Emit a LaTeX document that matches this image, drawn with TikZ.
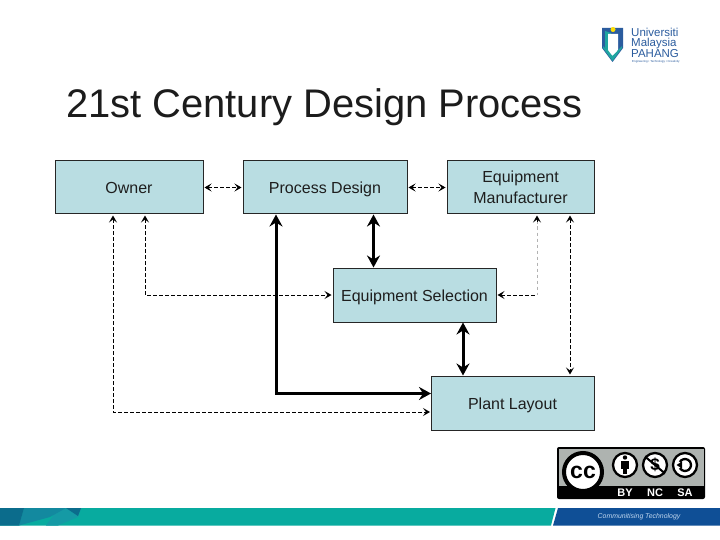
\documentclass[tikz,border=0pt]{standalone}
\usepackage{fontspec}
\setmainfont{Liberation Sans}
\usetikzlibrary{arrows.meta,calc}
\definecolor{boxfill}{HTML}{B9DDE2}
\definecolor{footteal}{HTML}{08AB9F}
\definecolor{footblue}{HTML}{0F4F96}
\definecolor{footdark}{HTML}{0B6C8C}
\definecolor{footmid}{HTML}{13899F}
\definecolor{footlight}{HTML}{159AA5}
\definecolor{logoblue}{HTML}{2B5C9E}
\definecolor{logoteal}{HTML}{1FA5A0}
\definecolor{ccgray}{HTML}{AEB3B0}
\definecolor{titlecol}{HTML}{1C1C1C}
\definecolor{textcol}{HTML}{1E1E1E}
\definecolor{foottext}{HTML}{BFD6EE}
\tikzset{
  block/.style={draw=black!85,line width=1pt,fill=boxfill,inner sep=0pt,align=center,
    text=textcol,font=\fontsize{16}{21}\selectfont},
  oneline/.style={text height=13pt,text depth=0pt},
  softlink/.style={line width=1pt,dash pattern=on 3.5pt off 2.5pt,
    {Stealth[length=7pt,width=8pt,inset=3pt]}-{Stealth[length=7pt,width=8pt,inset=3pt]},shorten <=1pt,shorten >=1pt},
  softgray/.style={line width=1pt,draw=black!30,dash pattern=on 3.5pt off 2.5pt},
  hardlink/.style={line width=3pt,
    {Stealth[length=12pt,width=13pt,inset=4pt]}-{Stealth[length=12pt,width=13pt,inset=4pt]}},
  iconring/.style={circle,draw=black,line width=2.3pt,fill=white,minimum size=24pt,inner sep=0pt},
  cclabel/.style={text=white,font=\bfseries\fontsize{11}{11}\selectfont,inner sep=0pt},
  logoline/.style={anchor=base west,inner sep=0pt,text=logoblue,font=\fontsize{11.5}{11.5}\selectfont}
}
\begin{document}
\begin{tikzpicture}[x=1pt,y=-1pt]
\useasboundingbox (0,0) rectangle (720,540);
\fill[white] (0,0) rectangle (720,540);

% title
\node[anchor=base west,inner sep=0pt,text=titlecol,font=\fontsize{39.9}{40}\selectfont] (title) at (66,118) {21st Century Design Process};

% blocks
\node[block,oneline,minimum width=148pt,minimum height=53pt] (owner) at (129,187.5) {Owner};
\node[block,oneline,minimum width=164pt,minimum height=53pt] (design) at (325,187.5) {Process Design};
\node[block,minimum width=147pt,minimum height=53pt] (maker) at (520.5,187.5) {\raisebox{-1.5pt}{Equipment}\\\raisebox{-1pt}{Manufacturer}};
\node[block,oneline,minimum width=163pt,minimum height=54pt] (select) at (414.5,295) {Equipment Selection};
\node[block,oneline,minimum width=163pt,minimum height=54pt] (plant) at (512.5,403) {Plant Layout};

% routing points
\coordinate (ownerA) at (113,214.5);
\coordinate (ownerB) at (145,214.5);
\coordinate (makerA) at (537,214.5);
\coordinate (makerB) at (570,214.5);
\coordinate (designA) at (276,214.5);
\coordinate (designB) at (373.5,214.5);
\coordinate (selectA) at (463,322.5);
\coordinate (plantA) at (431,393.5);
\coordinate (plantB) at (431,412);
\coordinate (cornerA) at (276,393.5);
\coordinate (cornerB) at (113,412);
\coordinate (cornerC) at (145,295);
\coordinate (cornerD) at (537,295);

% dashed links
\draw[softlink] (owner.east) -- (design.west);
\draw[softlink] (design.east) -- (maker.west);
\draw[softlink] (ownerB) -- (cornerC) -- (select.west);
\draw[softlink] (ownerA) -- (cornerB) -- (plantB);
\draw[softlink] (makerB) -- (makerB |- plant.north);
\draw[softgray] (makerA) ++(0,6) -- (cornerD);
\draw[{Stealth[length=7pt,width=8pt,inset=3pt]}-,line width=1pt,shorten <=1pt] (makerA) -- ++(0,8);
\draw[{Stealth[length=7pt,width=8pt,inset=3pt]}-,line width=1pt,shorten <=1pt,dash pattern=on 3.5pt off 2.5pt] (select.east) -- (cornerD);

% bold links
\draw[hardlink] (designB) -- (designB |- select.north);
\draw[hardlink] (selectA) -- (selectA |- plant.north);
\draw[hardlink] (designA) -- (cornerA) -- (plantA);

% logo shield
\fill[logoblue] (602,28) -- (623,28) -- (623,48) -- (612.5,62) -- (602,48) -- cycle;
\fill[logoteal] (605,31) -- (611,33) -- (611,52) -- (612.5,59) -- (605,48) -- cycle;
\fill[white] (608,34) -- (618,34) -- (618,50) -- (613,57) -- (608,50) -- cycle;
\fill[logoteal] (603,46) -- (612.5,56) -- (622,46) -- (622,48) -- (612.5,61) -- (603,48) -- cycle;
\fill[yellow!80!orange] (613,29.5) circle (2.5pt);
% logo text
\node[logoline] (logoA) at (631,37) {Universiti};
\node[logoline] (logoB) at (631,47) {Malaysia};
\node[logoline] (logoC) at (631,57.5) {PAHANG};
\node[logoline,font=\fontsize{2.9}{3}\selectfont] (logoD) at (632,62.5) {Engineering • Technology • Creativity};

% CC badge
\fill[black,rounded corners=2pt] (557,447) rectangle (705,499);
\fill[ccgray] (558.5,448.5) rectangle (703.5,486);
\node[circle,draw=black,line width=4pt,fill=white,minimum size=38pt,inner sep=0pt] (ccring) at (583,472)
  {\fontsize{23}{23}\selectfont\bfseries cc};
\node[iconring] (by) at (625,465) {};
\fill[black] (625,457.5) circle (2.2pt);
\fill[black] (621,461) rectangle (629,469);
\fill[black] (622.8,468) rectangle (627.2,474);
\node[iconring] (nc) at (655,465) {\fontsize{17}{17}\selectfont\bfseries\$};
\draw[line width=2pt] (645,456.5) -- (665,473.5);
\node[iconring] (sa) at (685,465) {};
\draw[line width=2.3pt] (679.8,462) arc[start angle=150,end angle=-150,radius=6pt];
\fill[black] (682,461.5) -- (682,468.5) -- (676.5,465) -- cycle;
\node[cclabel] (ccby) at (625,492.5) {BY};
\node[cclabel] (ccnc) at (655,492.5) {NC};
\node[cclabel] (ccsa) at (685,492.5) {SA};

% footer
\fill[footteal] (0,508) -- (555.5,508) -- (551,525.5) -- (0,525.5) -- cycle;
\fill[footblue] (558,508) -- (720,508) -- (720,525.5) -- (553,525.5) -- cycle;
\fill[footlight] (46,525.5) -- (56,512) -- (66,508) -- (81,508) -- (78,517) -- (58,525.5) -- cycle;
\fill[footmid] (24,508) -- (66,508) -- (50,517) -- (19,525.5) -- cycle;
\fill[footdark] (0,508) -- (24,508) -- (19,525.5) -- (0,525.5) -- cycle;
\fill[footdark] (66,508) -- (81,508) -- (78,516) -- cycle;
\node[inner sep=0pt,text=foottext,font=\itshape\fontsize{6.9}{8}\selectfont] (foot) at (639,516.5) {Communitising Technology};
\end{tikzpicture}
\end{document}
